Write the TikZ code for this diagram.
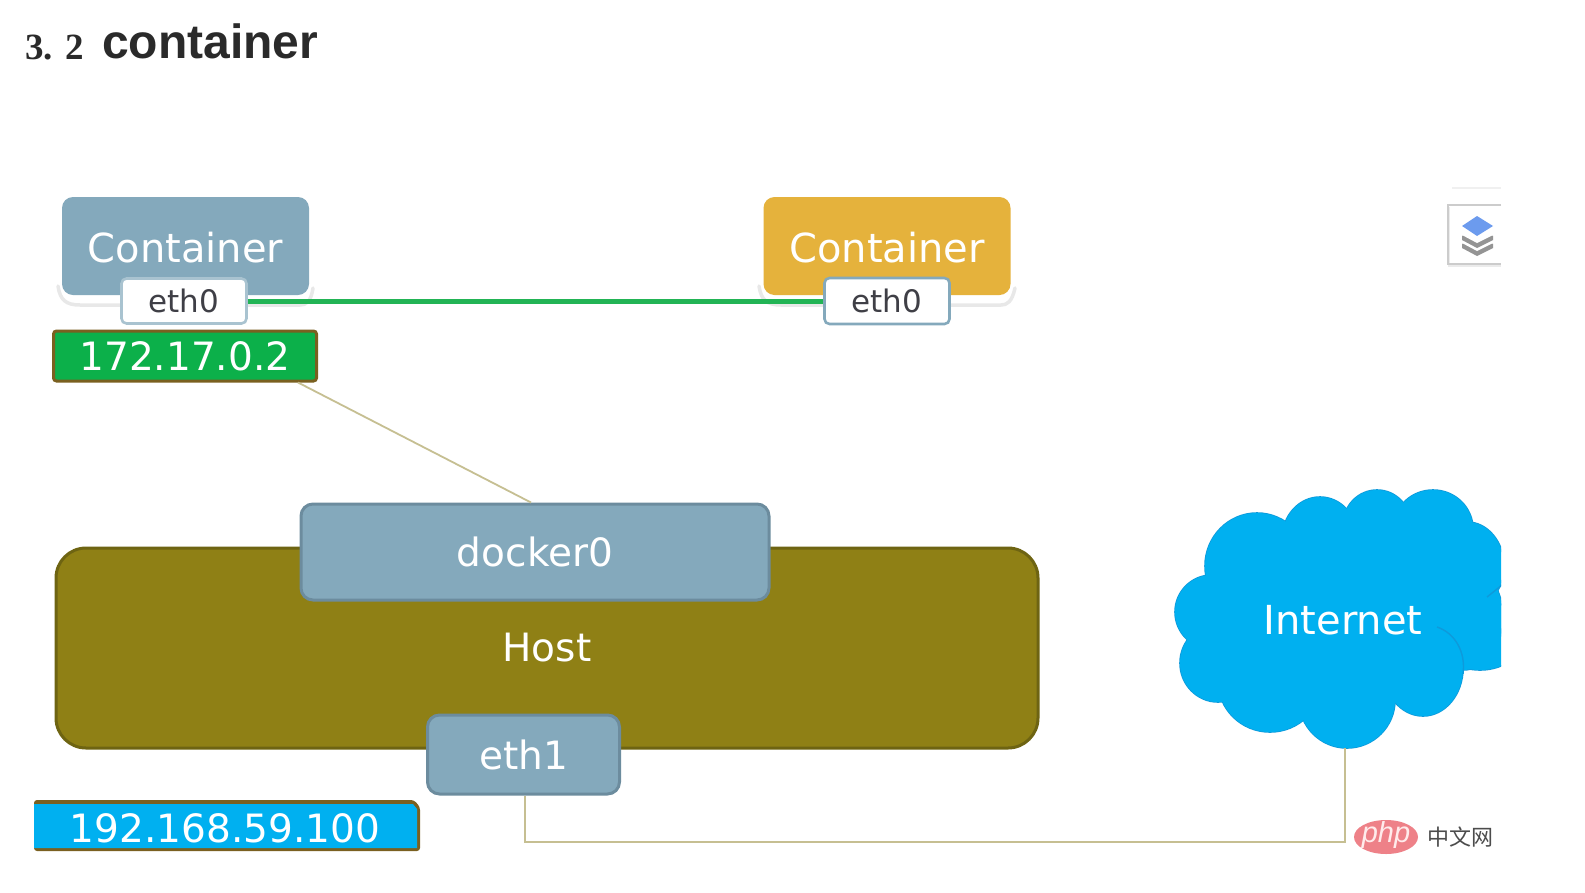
\documentclass[tikz,border=0pt]{standalone}
\usepackage{fontspec}
\setmainfont{DejaVu Sans}
\newfontfamily\titleserif{Liberation Serif}
\newfontfamily\titlesans{Liberation Sans}
\newfontfamily\cjkmark{Noto Sans CJK SC}
\usetikzlibrary{calc}
\definecolor{steel}{HTML}{84A9BC}
\definecolor{steeledge}{HTML}{6C8C9E}
\definecolor{olive}{HTML}{8F8015}
\definecolor{oliveedge}{HTML}{6E6412}
\definecolor{amber}{HTML}{E5B23C}
\definecolor{leaf}{HTML}{0CB04A}
\definecolor{sky}{HTML}{00B0F0}
\definecolor{skyedge}{HTML}{0E9ADB}
\definecolor{tagedge}{HTML}{7A6020}
\definecolor{wire}{HTML}{C6BF92}
\definecolor{link}{HTML}{22B455}
\definecolor{ink}{HTML}{3F3F46}
\definecolor{heading}{HTML}{2A2A2A}
\definecolor{stackblue}{HTML}{6C9BEE}
\definecolor{markred}{HTML}{EE8188}
\newcommand{\fsz}[1]{\fontsize{#1pt}{#1pt}\selectfont}
\tikzset{
  x=1pt,y=-1pt,
  box/.style={rounded corners=#1,inner sep=0pt,align=center,text=white},
  box/.default=12pt,
  sized/.style n args={2}{minimum width=#1,minimum height=#2},
  containerbox/.style={box=11pt,sized={247pt}{98pt},text depth=0pt},
  portbox/.style={box=5pt,fill=white,draw=#1,line width=2.6pt,text=ink,font=\fsz{31}},
  hostpart/.style={box=12pt,fill=steel,draw=steeledge,line width=3pt,font=\fsz{39}},
  iptag/.style={box=3pt,line width=3pt,draw=tagedge,font=\fsz{39}},
  wireline/.style={draw=wire,line width=1.8pt},
  plate/.style={draw=black!9,line width=3.5pt,line cap=round},
}
\begin{document}
\begin{tikzpicture}
\useasboundingbox[fill=white] (0,0) rectangle (1585,892);

% section heading
\node[anchor=base west,inner sep=0pt,text=heading,font=\titleserif\bfseries\fsz{37}] (num) at (25,59) {3.\,\,2};
\node[anchor=base west,inner sep=0pt,text=heading,font=\titlesans\bfseries\fsz{48}] (title) at (102,58) {container};

% soft plates below the two containers
\draw[plate] (58,286) .. controls (60,300) and (66,305) .. (80,305) -- (300,305) .. controls (306,305) and (311,302) .. (313,288);
\draw[plate] (759,286) .. controls (761,300) and (767,305) .. (781,305) -- (1001,305) .. controls (1007,305) and (1012,302) .. (1015,288);

% containers
\node[containerbox,fill=steel,font=\fsz{40}] (c1) at (185.5,246) {\raisebox{-2pt}{Container}};
\node[containerbox,fill=amber,font=\fsz{40}] (c2) at (887,246) {\raisebox{-2pt}{Container}};
\node[portbox=steel!70!white,sized={125pt}{45pt}] (p1) at (184,301) {eth0};
\node[portbox=steel,sized={125pt}{46pt}] (p2) at (887,301) {eth0};
\draw[draw=link,line width=5pt] (p1.east) -- (p2.west);

% address of the left container
\node[iptag,fill=leaf,sized={263pt}{50pt}] (ip1) at (185,356) {172.17.0.2};

% host with its bridge and uplink
\node[box=30pt,fill=olive,draw=oliveedge,line width=3pt,sized={982pt}{200pt},font=\fsz{39}] (host) at (547,648) {\raisebox{-4pt}{Host}};
\node[hostpart,sized={468pt}{96pt}] (dock) at (535,552) {docker0};
\node[hostpart,sized={192pt}{79pt}] (eth) at (523.5,754.5) {eth1};
\draw[wireline] ([xshift=113pt]ip1.south) -- ([xshift=-4pt]dock.north);

% uplink address
\fill[tagedge,rounded corners=3pt] (34,800) -- (414,800) -- (420,807) -- (420,851) -- (34,851) -- cycle;
\fill[sky] (34,804) -- (413,804) -- (417,809) -- (417,848) -- (34,848) -- cycle;
\node[inner sep=0pt,text=white,font=\fsz{39}] (ip2) at (225,828) {192.168.59.100};

% internet cloud, cut off by the page edge of the screenshot
\begin{scope}
  \clip (1100,470) rectangle (1501,770);
  \foreach \cx/\cy/\rx/\ry in {1257/566/52/53,1320/539/38/42,1377/525/34/35,1433/529/40/39,1467/566/37/44,1463/617/40/53,1480/635/45/35,1423/668/40/48,1347/700/48/48,1270/681/52/51,1218/663/38/39,1212/612/37/37}{
    \draw[skyedge,line width=1.6pt] (\cx,\cy) ellipse [x radius=\rx, y radius=\ry];
  }
  \foreach \cx/\cy/\rx/\ry in {1257/566/52/53,1320/539/38/42,1377/525/34/35,1433/529/40/39,1467/566/37/44,1463/617/40/53,1480/635/45/35,1423/668/40/48,1347/700/48/48,1270/681/52/51,1218/663/38/39,1212/612/37/37}{
    \fill[sky] (\cx,\cy) ellipse [x radius=\rx, y radius=\ry];
  }
  \fill[sky] (1345,610) ellipse [x radius=130, y radius=90];
  % creases where the lobes overlap
  \draw[skyedge,line width=1.4pt] (1437,627) .. controls (1455,633) and (1466,652) .. (1463,674);
  \draw[skyedge,line width=1.4pt] (1502,585) -- (1487,597);
\end{scope}
\node[inner sep=0pt,text=white,font=\fsz{40}] (net) at (1343,620) {Internet};

% uplink wire from eth1 to the cloud
\coordinate (cloudfoot) at (1345,748);
\coordinate (wirecorner) at (1345,842);
\draw[wireline] ([xshift=1.5pt]eth.south) |- (wirecorner) -- (cloudfoot);

% layers button at the right edge
\draw[black!6,line width=1.2pt] (1452,188) -- (1501,188);
\fill[black!8] (1448,207) rectangle (1501,267);
\fill[white] (1450,207) rectangle (1501,263);
\draw[black!20,line width=1.2pt] (1501,205) -- (1448,205) -- (1448,264) -- (1501,264);
\fill[black!42] (1462,244) -- (1477,236) -- (1493,244) -- (1493,248) -- (1477,256) -- (1462,248) -- cycle;
\fill[white] (1462,241) -- (1477,233) -- (1493,241) -- (1493,243) -- (1477,251) -- (1462,243) -- cycle;
\fill[black!42] (1462,236) -- (1477,228) -- (1493,236) -- (1493,240) -- (1477,248) -- (1462,240) -- cycle;
\fill[white] (1462,232) -- (1477,224) -- (1493,232) -- (1493,235) -- (1477,243) -- (1462,235) -- cycle;
\fill[stackblue] (1462,226) -- (1477,216) -- (1493,226) -- (1477,236) -- cycle;

% site mark
\fill[markred] (1386,837) ellipse [x radius=32, y radius=17];
\node[inner sep=0pt,text=red!8!white,font=\titlesans\itshape\fsz{29}] (php) at (1386,835) {php};
\node[inner sep=0pt,text=black!70,font=\cjkmark\fsz{22}] (cn) at (1460,837) {中文网};
\end{tikzpicture}
\end{document}
